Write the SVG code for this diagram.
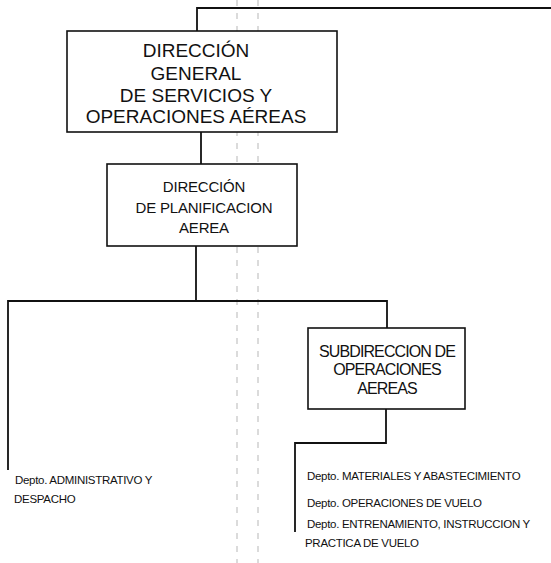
<svg xmlns="http://www.w3.org/2000/svg" width="551" height="563" viewBox="0 0 551 563">
<style>
.box{fill:#fff;stroke:#111;stroke-width:1.6}
.ln{fill:none;stroke:#111;stroke-width:1.8}
.art{fill:none;stroke:#999;stroke-width:0.7;stroke-dasharray:6 7}
text{font-family:"Liberation Sans",Arial,sans-serif;fill:#111}
.t1{font-size:19px;text-anchor:middle}
.t2{font-size:15px;text-anchor:middle;letter-spacing:-0.2px}
.t3{font-size:16px;text-anchor:middle;letter-spacing:-0.9px}
.t4{font-size:11.5px;letter-spacing:-0.3px}
</style>
<rect width="551" height="563" fill="#fff"/>
<g id="artifacts">
<line class="art" x1="237" y1="0" x2="237" y2="563"/>
<line class="art" x1="258" y1="0" x2="258" y2="563"/>
</g>
<g id="connectors">
<polyline class="ln" points="551,8 197,8 197,31"/>
<line class="ln" x1="201" y1="132" x2="201" y2="164"/>
<line class="ln" x1="196" y1="246" x2="196" y2="301"/>
<polyline class="ln" points="8,470 8,301 387,301 387,328"/>
<polyline class="ln" points="386,409 386,443 295,443 295,532"/>
</g>
<g id="n1">
<rect class="box" x="67" y="31" width="270" height="101"/>
<text class="t1" x="196" y="57">DIRECCIÓN</text>
<text class="t1" x="196" y="80">GENERAL</text>
<text class="t1" x="196" y="102">DE SERVICIOS Y</text>
<text class="t1" x="196" y="123">OPERACIONES AÉREAS</text>
</g>
<g id="n2">
<rect class="box" x="107" y="164" width="190" height="82"/>
<text class="t2" x="204" y="192">DIRECCIÓN</text>
<text class="t2" x="204" y="213">DE PLANIFICACION</text>
<text class="t2" x="204" y="233">AEREA</text>
</g>
<g id="n3">
<rect class="box" x="308" y="328" width="157" height="81"/>
<text class="t3" x="387" y="357">SUBDIRECCION DE</text>
<text class="t3" x="387" y="375">OPERACIONES</text>
<text class="t3" x="387" y="394">AEREAS</text>
</g>
<g id="n4">
<text class="t4" x="15" y="484">Depto. ADMINISTRATIVO Y</text>
<text class="t4" x="14" y="503">DESPACHO</text>
</g>
<g id="n5">
<text class="t4" x="307" y="480">Depto. MATERIALES Y ABASTECIMIENTO</text>
</g>
<g id="n6">
<text class="t4" x="307" y="507">Depto. OPERACIONES DE VUELO</text>
</g>
<g id="n7">
<text class="t4" x="307" y="528">Depto. ENTRENAMIENTO, INSTRUCCION Y</text>
<text class="t4" x="305" y="547">PRACTICA DE VUELO</text>
</g>
</svg>
